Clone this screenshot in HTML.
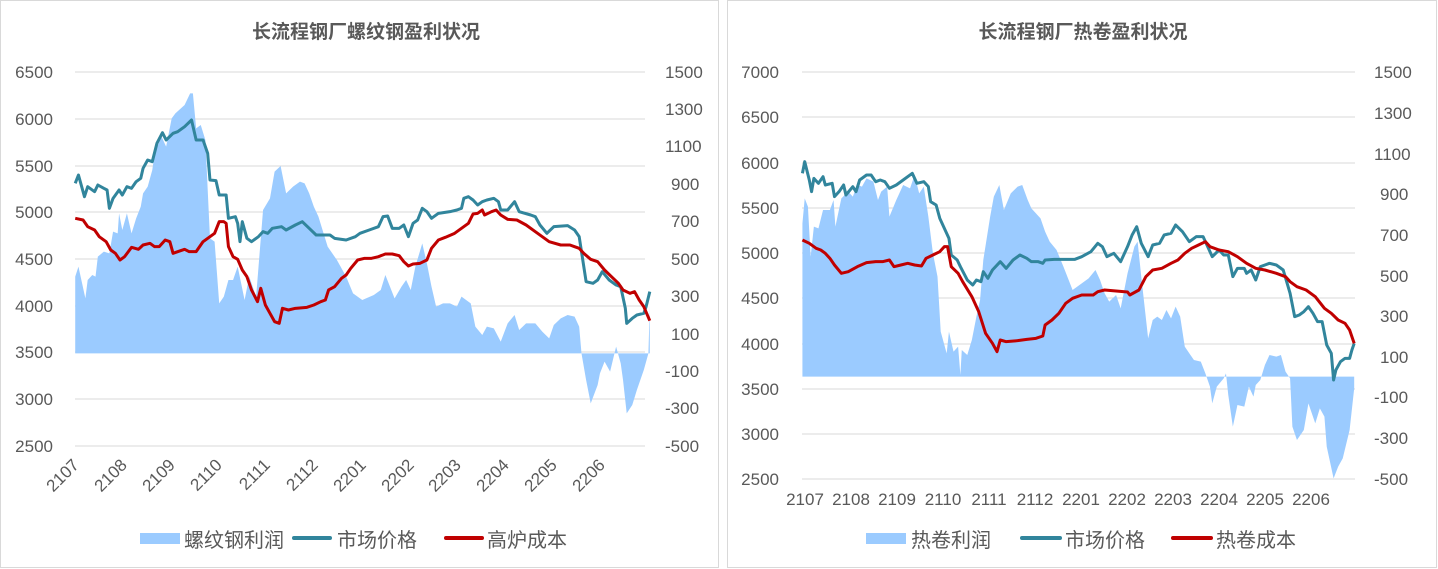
<!DOCTYPE html>
<html><head><meta charset="utf-8"><style>
html,body{margin:0;padding:0;background:#fff;}
svg{display:block;font-family:"Liberation Sans","Noto Sans CJK SC",sans-serif;}
</style></head><body>
<svg width="1438" height="569" viewBox="0 0 1438 569">
<rect x="0.5" y="0.5" width="718" height="567" fill="#fff" stroke="#d9d9d9"/>
<rect x="727.5" y="0.5" width="709" height="567" fill="#fff" stroke="#d9d9d9"/>
<g fill="#595959" font-size="19" font-weight="bold" text-anchor="middle">
<text x="366" y="38">长流程钢厂螺纹钢盈利状况</text>
<text x="1083" y="38">长流程钢厂热卷盈利状况</text>
</g>
<!-- left grid -->
<g stroke="#d9d9d9" stroke-width="1">
<line x1="75" x2="645" y1="72" y2="72"/><line x1="75" x2="645" y1="119" y2="119"/><line x1="75" x2="645" y1="166" y2="166"/><line x1="75" x2="645" y1="212" y2="212"/><line x1="75" x2="645" y1="259" y2="259"/><line x1="75" x2="645" y1="306" y2="306"/><line x1="75" x2="645" y1="352" y2="352"/><line x1="75" x2="645" y1="399" y2="399"/><line x1="75" x2="645" y1="446" y2="446"/>
</g>
<g fill="#595959" font-size="17" text-anchor="end">
<text x="53" y="78">6500</text><text x="53" y="125">6000</text><text x="53" y="172">5500</text><text x="53" y="218">5000</text><text x="53" y="265">4500</text><text x="53" y="312">4000</text><text x="53" y="358">3500</text><text x="53" y="405">3000</text><text x="53" y="452">2500</text>
</g>
<g fill="#595959" font-size="17">
<text x="665" y="78">1500</text><text x="665" y="115">1300</text><text x="665" y="152">1100</text><text x="671" y="190">900</text><text x="671" y="227">700</text><text x="671" y="265">500</text><text x="671" y="302">300</text><text x="671" y="340">100</text><text x="665" y="377">-100</text><text x="665" y="414">-300</text><text x="665" y="452">-500</text>
</g>
<g fill="#595959" font-size="17" text-anchor="end">
<text transform="translate(80,466) rotate(-45)">2107</text>
<text transform="translate(128,466) rotate(-45)">2108</text>
<text transform="translate(176,466) rotate(-45)">2109</text>
<text transform="translate(223,466) rotate(-45)">2110</text>
<text transform="translate(271,466) rotate(-45)">2111</text>
<text transform="translate(319,466) rotate(-45)">2112</text>
<text transform="translate(367,466) rotate(-45)">2201</text>
<text transform="translate(415,466) rotate(-45)">2202</text>
<text transform="translate(462,466) rotate(-45)">2203</text>
<text transform="translate(510,466) rotate(-45)">2204</text>
<text transform="translate(558,466) rotate(-45)">2205</text>
<text transform="translate(606,466) rotate(-45)">2206</text>
</g>
<g transform="translate(0,60) scale(0.4615,0.33333)">
<polygon fill="#9BCBFF" points="163,880 163,650 170,620 185,715 190,660 200,645 207,650 212,590 225,575 237,580 245,515 255,520 258,460 265,510 275,460 285,520 295,475 305,440 310,400 320,380 330,330 335,280 350,230 360,260 372,175 380,160 400,135 412,100 418,100 425,205 435,195 445,240 455,535 465,545 475,730 485,710 495,660 505,660 515,620 530,720 540,650 555,710 570,450 585,415 595,335 608,318 620,400 635,380 650,365 660,370 670,400 680,440 690,470 710,560 730,600 750,650 765,700 785,720 810,705 825,690 835,645 845,680 855,715 870,680 880,660 890,690 900,620 915,550 925,610 935,680 945,740 960,730 975,730 990,740 1000,710 1010,720 1020,730 1030,800 1045,825 1055,800 1070,805 1085,845 1100,790 1115,765 1125,810 1140,790 1160,790 1175,815 1190,835 1200,795 1215,775 1230,765 1245,770 1255,800 1260,880 1270,960 1280,1030 1295,975 1300,940 1310,905 1322,935 1335,860 1345,910 1350,960 1358,1060 1370,1035 1380,990 1395,930 1405,880 1408,740 1408,880"/>
<polyline fill="none" stroke="#31859C" stroke-width="3" vector-effect="non-scaling-stroke" stroke-linejoin="round" points="163,370 170,345 183,410 190,380 205,395 212,375 225,385 232,390 237,445 245,415 258,390 265,405 275,380 285,385 295,365 305,355 310,325 320,300 330,305 340,250 352,218 360,240 375,220 385,215 400,200 415,180 425,240 440,240 450,280 455,360 468,362 475,405 490,405 495,475 510,470 515,490 520,545 525,485 535,535 545,545 560,530 570,515 580,520 590,505 610,500 620,510 640,495 655,485 670,505 685,525 715,525 725,535 750,540 770,530 780,520 800,510 820,500 830,470 840,468 850,505 865,505 875,495 885,530 895,490 905,480 915,445 925,455 935,475 950,460 975,455 990,450 1000,445 1005,415 1015,410 1025,420 1035,435 1045,425 1055,420 1070,415 1080,425 1085,450 1100,450 1115,425 1125,455 1150,465 1160,470 1170,495 1185,520 1200,500 1230,497 1245,510 1255,530 1270,665 1285,670 1295,660 1305,635 1320,660 1335,675 1345,680 1355,745 1358,790 1370,775 1380,765 1395,760 1400,740 1408,695"/>
<polyline fill="none" stroke="#C00000" stroke-width="3" vector-effect="non-scaling-stroke" stroke-linejoin="round" points="163,475 180,480 190,500 205,510 215,530 230,545 240,570 250,580 260,600 270,590 285,562 300,568 310,555 325,550 335,560 345,560 358,540 368,545 375,580 385,575 400,568 410,575 425,575 440,545 455,530 465,520 475,485 485,485 490,490 495,560 505,590 515,598 525,630 535,650 545,690 558,725 565,685 575,735 585,760 595,785 605,790 612,745 625,750 640,745 665,742 680,735 695,725 705,720 712,690 725,680 740,655 750,645 760,625 775,600 790,595 805,595 820,590 835,582 850,582 865,587 875,605 885,618 895,612 910,610 925,600 935,565 950,540 965,532 985,520 1000,505 1015,490 1025,462 1035,460 1045,450 1050,465 1065,455 1075,450 1085,465 1100,478 1120,480 1140,495 1160,515 1175,530 1190,545 1215,555 1235,555 1245,560 1255,565 1265,580 1280,598 1295,605 1310,630 1325,650 1340,670 1350,690 1365,700 1375,695 1385,720 1395,740 1408,782"/>
</g>
<!-- left legend -->
<rect x="140" y="533" width="40" height="11" fill="#9BCBFF"/>
<line x1="294" x2="330" y1="538" y2="538" stroke="#31859C" stroke-width="4" stroke-linecap="round"/>
<line x1="446" x2="482" y1="538" y2="538" stroke="#C00000" stroke-width="4" stroke-linecap="round"/>
<g fill="#595959" font-size="20">
<text x="184" y="547">螺纹钢利润</text><text x="337" y="547">市场价格</text><text x="487" y="547">高炉成本</text>
</g>

<!-- right grid -->
<g stroke="#d9d9d9" stroke-width="1">
<line x1="802" x2="1355" y1="72" y2="72"/><line x1="802" x2="1355" y1="117" y2="117"/><line x1="802" x2="1355" y1="163" y2="163"/><line x1="802" x2="1355" y1="208" y2="208"/><line x1="802" x2="1355" y1="253" y2="253"/><line x1="802" x2="1355" y1="298" y2="298"/><line x1="802" x2="1355" y1="344" y2="344"/><line x1="802" x2="1355" y1="389" y2="389"/><line x1="802" x2="1355" y1="434" y2="434"/><line x1="802" x2="1355" y1="479" y2="479"/>
</g>
<g fill="#595959" font-size="17" text-anchor="end">
<text x="779" y="78">7000</text><text x="779" y="123">6500</text><text x="779" y="169">6000</text><text x="779" y="214">5500</text><text x="779" y="259">5000</text><text x="779" y="304">4500</text><text x="779" y="350">4000</text><text x="779" y="395">3500</text><text x="779" y="440">3000</text><text x="779" y="485">2500</text>
</g>
<g fill="#595959" font-size="17">
<text x="1374" y="78">1500</text><text x="1374" y="119">1300</text><text x="1374" y="160">1100</text><text x="1380" y="200">900</text><text x="1380" y="241">700</text><text x="1380" y="282">500</text><text x="1380" y="322">300</text><text x="1380" y="363">100</text><text x="1374" y="403">-100</text><text x="1374" y="444">-300</text><text x="1374" y="485">-500</text>
</g>
<g fill="#595959" font-size="17" text-anchor="middle">
<text x="805" y="505">2107</text><text x="851" y="505">2108</text><text x="897" y="505">2109</text><text x="943" y="505">2110</text><text x="989" y="505">2111</text><text x="1035" y="505">2112</text><text x="1081" y="505">2201</text><text x="1127" y="505">2202</text><text x="1173" y="505">2203</text><text x="1219" y="505">2204</text><text x="1265" y="505">2205</text><text x="1311" y="505">2206</text>
</g>
<g transform="translate(720,60) scale(0.4579,0.33333)">
<polygon fill="#9BCBFF" points="180,950 180,490 185,415 192,440 198,590 205,500 215,505 225,450 240,450 248,420 252,500 265,415 280,395 290,410 300,375 310,380 320,355 335,365 345,420 352,395 365,380 370,470 385,420 400,375 415,385 425,345 435,400 445,380 455,470 465,580 475,650 482,815 495,880 500,815 510,875 520,860 525,945 528,870 540,885 550,840 560,770 568,720 575,600 590,470 598,410 610,375 620,450 635,400 650,380 660,375 672,420 680,445 700,475 710,515 720,545 735,570 750,620 770,690 790,670 805,655 820,630 830,660 840,700 850,725 865,705 875,745 890,640 905,560 912,545 920,650 935,835 945,780 955,770 965,780 975,750 985,775 995,740 1005,770 1015,860 1025,880 1035,900 1050,905 1060,940 1070,980 1075,1030 1085,980 1100,955 1105,940 1110,1005 1120,1100 1130,1035 1145,1040 1155,980 1165,1010 1170,975 1180,960 1190,915 1200,885 1215,890 1225,885 1235,935 1245,955 1250,1100 1260,1140 1275,1110 1285,1030 1300,1090 1310,1045 1320,1070 1325,1160 1340,1255 1350,1220 1360,1195 1375,1110 1385,985 1385,950"/>
<polyline fill="none" stroke="#31859C" stroke-width="3" vector-effect="non-scaling-stroke" stroke-linejoin="round" points="180,340 185,305 195,360 200,395 205,355 215,370 225,350 230,375 245,370 250,410 260,395 270,375 275,405 290,380 297,395 305,360 320,345 330,345 340,365 350,360 360,365 370,385 385,375 400,360 420,340 430,370 445,365 455,380 460,425 472,435 480,475 490,505 500,535 505,585 518,600 525,620 540,660 552,675 560,660 570,665 575,635 585,655 595,630 612,605 625,625 640,600 655,585 670,595 680,605 695,605 705,610 710,600 730,598 750,598 775,598 790,590 810,575 825,550 835,560 845,590 860,580 875,605 890,560 900,525 910,500 920,550 935,590 945,555 960,550 970,525 985,520 995,495 1010,515 1025,545 1040,530 1055,530 1065,560 1075,590 1090,570 1100,585 1110,585 1120,650 1130,625 1145,625 1150,640 1160,630 1170,660 1180,620 1190,615 1200,610 1215,615 1230,630 1245,700 1255,770 1265,765 1275,755 1285,740 1295,760 1305,785 1315,785 1325,855 1335,880 1340,960 1345,930 1355,905 1365,895 1375,895 1380,870 1385,850"/>
<polyline fill="none" stroke="#C00000" stroke-width="3" vector-effect="non-scaling-stroke" stroke-linejoin="round" points="180,540 195,550 210,565 220,570 230,580 240,595 250,615 265,640 280,635 300,620 320,608 340,605 355,605 370,600 380,620 395,615 410,610 425,615 440,618 450,595 465,585 480,575 490,560 497,560 505,620 520,640 530,665 550,710 565,755 580,820 595,850 605,875 612,840 625,845 650,842 670,838 690,835 705,828 710,795 725,780 740,760 755,730 770,715 790,705 815,705 825,695 840,690 865,693 890,696 895,705 915,690 930,650 945,630 965,625 985,610 1000,600 1015,580 1030,565 1045,555 1060,545 1070,560 1090,570 1110,575 1130,590 1150,610 1170,625 1190,630 1215,640 1235,650 1245,665 1260,680 1280,690 1300,710 1320,745 1335,760 1350,780 1365,790 1375,810 1385,850"/>
</g>
<!-- right legend -->
<rect x="866" y="533" width="40" height="11" fill="#9BCBFF"/>
<line x1="1022" x2="1060" y1="538" y2="538" stroke="#31859C" stroke-width="4" stroke-linecap="round"/>
<line x1="1173" x2="1211" y1="538" y2="538" stroke="#C00000" stroke-width="4" stroke-linecap="round"/>
<g fill="#595959" font-size="20">
<text x="911" y="547">热卷利润</text><text x="1065" y="547">市场价格</text><text x="1216" y="547">热卷成本</text>
</g>
</svg>
</body></html>
